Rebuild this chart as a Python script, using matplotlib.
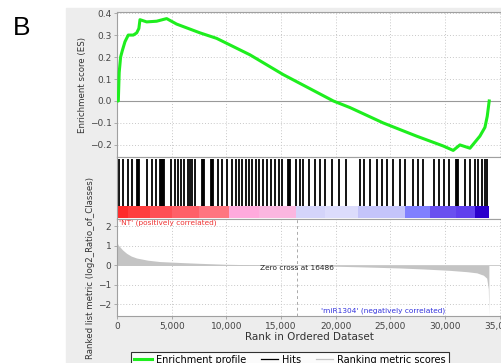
import numpy as np
import matplotlib
matplotlib.use("Agg")
import matplotlib.pyplot as plt
from matplotlib.lines import Line2D
from matplotlib.patches import Rectangle
from matplotlib.ticker import FuncFormatter

# running enrichment score
es_rank = [0, 120, 200, 330, 490, 730, 1030, 1490, 1800, 2000, 2100, 2710, 3620,
           4540, 5450, 7590, 9110, 12160, 15200, 19780, 21300, 24340, 27390,
           29830, 30740, 31350, 32270, 33180, 33640, 33850, 34030]
es_val = [0.0, 0.0, 0.13, 0.2, 0.23, 0.27, 0.30, 0.30, 0.31, 0.33, 0.37, 0.36, 0.363,
          0.375, 0.35, 0.31, 0.285, 0.21, 0.12, 0.0, -0.03, -0.10, -0.16,
          -0.205, -0.225, -0.20, -0.215, -0.16, -0.12, -0.07, 0.0]

# gene set hit positions (rank)
hits = [180, 580, 970, 1400, 1800, 1900, 2010, 2770, 3170, 3540, 3960, 4050, 4150,
        4240, 4330, 4900, 5300, 5600, 5850, 6120, 6460, 6670, 6890, 7130, 7800,
        7890, 7980, 8590, 8700, 8800, 9200, 9630, 10080, 10480, 10850, 11150, 11400,
        11760, 12070, 12370, 12680, 13010, 13310, 13740, 14050, 14440, 14810,
        15110, 15660, 15750, 15840, 16330, 16760, 17030, 17580, 18100, 18560,
        19010, 19630, 20320, 20930, 22210, 22610, 23130, 23740, 24190, 24710,
        25260, 25870, 26330, 27090, 27540, 27940, 28980, 29460, 29890, 30380,
        31000, 31110, 31200, 31810, 32270, 32720, 33030, 33340, 33640, 33850]

# ranked list metric
metric_rank = [0, 100, 270, 500, 880, 1300, 1800, 2800, 3900, 5800, 7500, 10000,
               13000, 16486, 20000, 22200, 25900, 28000, 30400, 32000, 32900,
               33500, 33800, 33950, 34000]
metric_val = [1.2, 1.05, 0.95, 0.8, 0.62, 0.48, 0.38, 0.27, 0.2, 0.15, 0.11, 0.06,
              0.03, 0.0, -0.04, -0.07, -0.13, -0.18, -0.25, -0.32, -0.38,
              -0.5, -0.65, -1.2, -2.55]

# heat bar bands
band_edges = [0, 1000, 3000, 5000, 7500, 10200, 13000, 16400, 19000, 22000,
              26300, 28600, 31000, 32700, 34000]
band_colors = ['#ff2a2a', '#ff3d3d', '#ff4f55', '#ff6068', '#ff7580', '#ffaadd',
               '#fbb6e0', '#d4d4fa', '#dcdcfc', '#c4c4fa', '#8080ff', '#6a50f0',
               '#6040ee', '#2a00cc']

zero_cross = 16486
xticks = [0, 5000, 10000, 15000, 20000, 25000, 30000, 35000]

W, H = 502, 363
fig = plt.figure(figsize=(W / 100, H / 100), dpi=100)
fig.patches.append(Rectangle((66 / W, 0), 1 - 66 / W, 1 - 8 / H,
                             transform=fig.transFigure, color='#ededed', zorder=-10))

left = 117 / W
width = 1 - left
XMAX = 35200
tick_col = '#444444'
spine_col = '#a0a0a0'
grid_kw = dict(color='#c8c8c8', linestyle=(0, (1, 2)), linewidth=0.7)


def style(ax):
    for s in ax.spines.values():
        s.set_color(spine_col)
        s.set_linewidth(0.8)
    ax.tick_params(colors=spine_col, labelcolor=tick_col, labelsize=6.5,
                   length=2.5, width=0.6, pad=1.5)
    ax.set_xlim(0, XMAX)


def px_axes(top, bottom):
    return fig.add_axes([left, 1 - bottom / H, width, (bottom - top) / H])


# enrichment score panel
ax1 = px_axes(12, 157)
style(ax1)
ax1.set_ylim(-0.255, 0.405)
ax1.set_yticks([-0.2, -0.1, 0.0, 0.1, 0.2, 0.3, 0.4])
ax1.yaxis.set_major_formatter(FuncFormatter(lambda v, p: f'{v:.1f}'.replace('-', '\u2212')))
ax1.set_xticks(xticks)
ax1.tick_params(axis='x', length=0, labelbottom=False)
for x in xticks[1:]:
    ax1.axvline(x, **grid_kw, zorder=1)
for y in [-0.2, -0.1, 0.1, 0.2, 0.3, 0.4]:
    ax1.axhline(y, **grid_kw, zorder=1)
ax1.axhline(0, color='#999999', linewidth=0.8, zorder=1)
ax1.plot(es_rank, es_val, color='#1eee1e', linewidth=2.2, zorder=3)

# hits + heat bar panel
ax2 = px_axes(157, 219)
style(ax2)
ax2.set_ylim(0, 1)
ax2.set_xticks([])
ax2.set_yticks([])
ax2.vlines(hits, 0.21, 0.965, color='black', linewidth=1.3)
for i, c in enumerate(band_colors):
    ax2.axvspan(band_edges[i], band_edges[i + 1], 0.02, 0.21, color=c, linewidth=0)

# ranked list metric panel
ax3 = px_axes(219, 316)
style(ax3)
ax3.set_ylim(-2.59, 2.38)
ax3.set_yticks([-2, -1, 0, 1, 2])
ax3.yaxis.set_major_formatter(FuncFormatter(lambda v, p: f'{v:.0f}'.replace('-', '\u2212')))
ax3.set_xticks(xticks)
ax3.xaxis.set_major_formatter(FuncFormatter(lambda v, p: f'{v:,.0f}'))
for x in xticks[1:]:
    ax3.axvline(x, **grid_kw, zorder=1)
for y in [-2, -1, 1, 2]:
    ax3.axhline(y, **grid_kw, zorder=1)
ax3.fill_between(metric_rank, 0, metric_val, color='#c4c4c4', linewidth=0, zorder=2)
ax3.axhline(0, color='#c4c4c4', linewidth=0.6, zorder=2)
ax3.axvline(zero_cross, color='#aaaaaa', linestyle=(0, (3, 3)), linewidth=0.7, zorder=2)
ax3.text(200, 2.18, "'NT' (positively correlated)", color='#ee3333', fontsize=5.3,
         ha='left', va='center')
ax3.text(zero_cross, -0.13, f'Zero cross at {zero_cross}', color='#222222',
         fontsize=5.3, ha='center', va='center', zorder=4)
ax3.text(24360, -2.33, "'miR1304' (negatively correlated)", color='#3333dd',
         fontsize=5.3, ha='center', va='center')
ax3.set_xlabel('Rank in Ordered Dataset', fontsize=7.5, color='#333333', labelpad=1)

fig.text(83 / W, 1 - 85 / H, 'Enrichment score (ES)', rotation=90, fontsize=6.2,
         color='#333333', ha='center', va='center')
fig.text(91 / W, 1 - 268 / H, 'Ranked list metric (log2_Ratio_of_Classes)',
         rotation=90, fontsize=6.2, color='#333333', ha='center', va='center')
fig.text(13 / W, 1 - 35 / H, 'B', fontsize=19, family='Liberation Sans',
         ha='left', va='baseline')

handles = [Line2D([], [], color='#1eee1e', linewidth=2.2),
           Line2D([], [], color='black', linewidth=0.9),
           Line2D([], [], color='#c4c4c4', linewidth=0.9)]
leg = fig.legend(handles, ['Enrichment profile', 'Hits', 'Ranking metric scores'],
                 loc='upper center', bbox_to_anchor=(290 / W, 1 - 347 / H), ncol=3,
                 fontsize=7, frameon=True, fancybox=False, borderpad=0.3,
                 handlelength=1.8, handletextpad=0.4, columnspacing=1.5)
leg.get_frame().set_edgecolor('black')
leg.get_frame().set_linewidth(0.8)

fig.savefig('out.png', dpi=100)
